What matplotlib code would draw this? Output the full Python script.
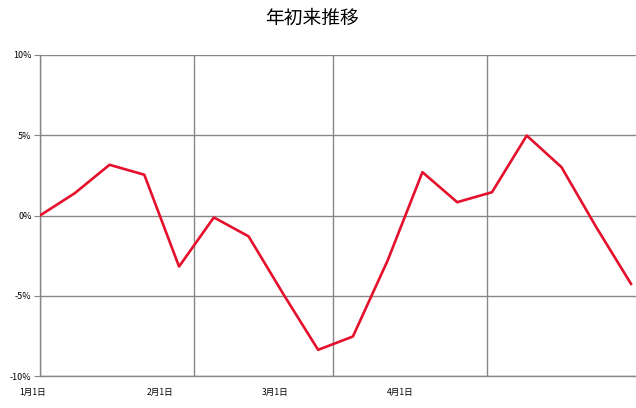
import numpy as np
import pandas as pd
import matplotlib
matplotlib.use("Agg")
import matplotlib.pyplot as plt
import matplotlib.transforms as mtransforms

plt.rcParams['font.family'] = ['Noto Sans CJK JP', 'DejaVu Sans']

# weekly values (%) from Jan 1
dates = pd.date_range("2015-01-01", periods=18, freq="7D")
values = [0.0, 1.39, 3.16, 2.54, -3.18, -0.12, -1.3, -4.9, -8.37,
          -7.54, -2.8, 2.70, 0.83, 1.45, 4.98, 3.01, -0.73, -4.26]

month_starts = pd.to_datetime(["2015-01-01", "2015-02-01", "2015-03-01", "2015-04-01"])
month_labels = ["1月1日", "2月1日", "3月1日", "4月1日"]
# labels sit left of their grid lines in the original (day offsets from Jan 1)
label_days = [-1.4, 24.2, 47.3, 72.5]

y_ticks = [-10, -5, 0, 5, 10]
y_labels = ["-10%", "-5%", "0%", "5%", "10%"]

W, H = 636, 408
fig = plt.figure(figsize=(W / 100, H / 100), dpi=100)
ax = fig.add_axes([40 / W, 32 / H, 596 / W, (376 - 55) / H])

start = pd.Timestamp("2015-01-01")
x = (dates - start).days
ax.plot(x, values, color="#E4102C", linewidth=1.9, zorder=3)

gridc = "#878787"

ax.set_yticks(y_ticks)
ax.set_yticklabels(y_labels, fontsize=6.5)
ax.tick_params(axis="y", length=4, color=gridc, pad=2)

ax.set_xticks((month_starts - start).days)
ax.set_xticklabels([])
ax.tick_params(axis="x", which="major", length=0)

ax.set_xlim(0, 120)
ax.set_ylim(-10, 10)

trans = mtransforms.blended_transform_factory(ax.transData, ax.transAxes)
for d, lab in zip(label_days, month_labels):
    ax.text(d, -16 / 321, lab, transform=trans, ha="center", va="center",
            fontsize=6.2, clip_on=False)

ax.grid(True, which="major", color=gridc, linewidth=1.0)
for s in ["top", "right"]:
    ax.spines[s].set_visible(False)
for s in ["left", "bottom"]:
    ax.spines[s].set_color(gridc)
    ax.spines[s].set_linewidth(1.0)

fig.text(312 / W, 1 - 18 / H, "年初来推移", ha="center", va="center",
         fontsize=13.5)

fig.savefig("out.png", dpi=100)
